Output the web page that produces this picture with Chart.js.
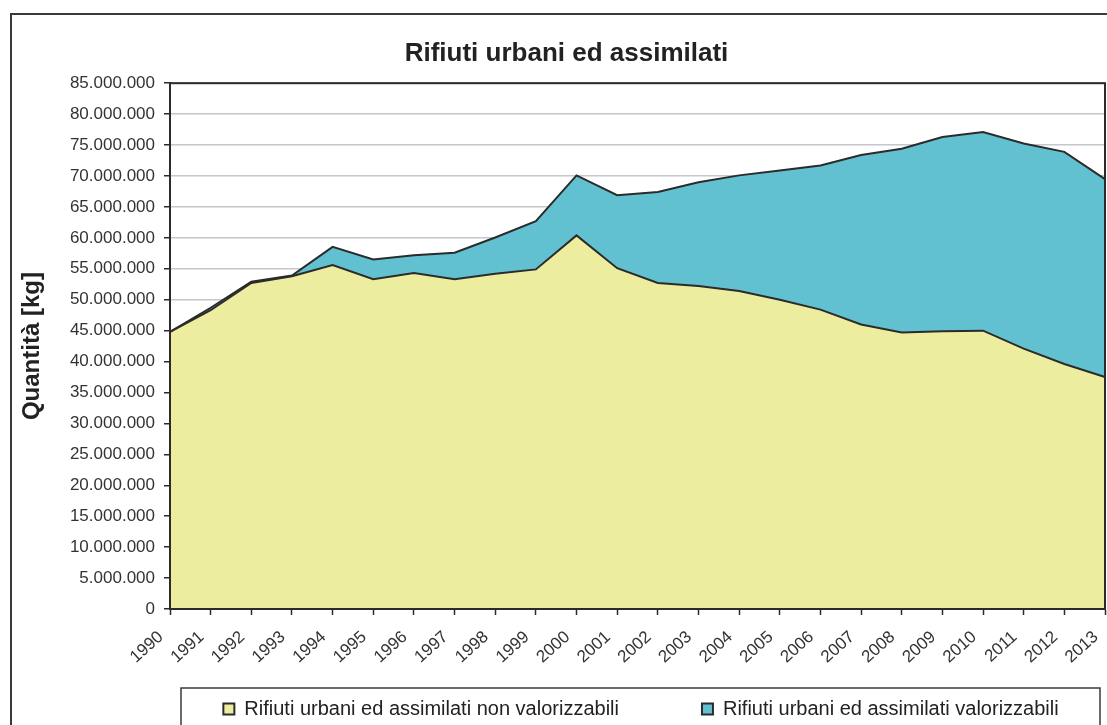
<!DOCTYPE html>
<html>
<head>
<meta charset="utf-8">
<script src="https://cdn.jsdelivr.net/npm/chart.js@4/dist/chart.umd.min.js"></script>
<style>
  body { margin: 0; background: #fff; }
  #wrap { width: 1107px; height: 725px; }
</style>
</head>
<body>
<div id="wrap"><canvas id="rifiutiChart" width="1107" height="725"></canvas></div>
<script>
const years = ['1990', '1991', '1992', '1993', '1994', '1995', '1996', '1997', '1998', '1999', '2000', '2001',
    '2002', '2003', '2004', '2005', '2006', '2007', '2008', '2009', '2010', '2011', '2012', '2013'];

// kg
const nonValorizzabili = [44800000, 48300000, 52700000, 53800000, 55600000, 53300000, 54300000, 53300000,
    54200000, 54900000, 60400000, 55100000, 52700000, 52200000, 51400000, 50000000, 48400000, 46000000,
    44700000, 44900000, 45000000, 42100000, 39600000, 37500000];
const valorizzabili = [0, 400000, 200000, 100000, 2950000, 3200000, 2900000, 4300000,
    5850000, 7800000, 9700000, 11800000, 14700000, 16800000, 18700000, 20900000, 23300000, 27400000,
    29700000, 31400000, 32100000, 33150000, 34300000, 32000000];

const yTickStep = 5000000;
const yMax = 85000000;

const FONT = '"Liberation Sans", Arial, sans-serif';
const DARK = '#2b2b2b';

const formatIt = v => String(v).replace(/\B(?=(\d{3})+(?!\d))/g, '.');

// frame, plot border and legend box
const framePlugin = {
    id: 'frame',
    afterLayout(chart) {
        // title centred a bit right, like the original
        chart.titleBlock.left = 28;
        chart.titleBlock.right = 1105;
        // legend sits inside its own box
        const lg = chart.legend;
        lg.left = 132;
        lg.right = 1150;
        lg.width = lg.right - lg.left;
        lg.top = 709 - lg.options.labels.padding - 10;
        lg.bottom = 730;
        lg.height = lg.bottom - lg.top;
    },
    beforeDraw(chart) {
        const ctx = chart.ctx;
        ctx.save();
        ctx.fillStyle = '#fff';
        ctx.fillRect(0, 0, chart.width, chart.height);
        ctx.strokeStyle = '#3a3a3a';
        ctx.lineWidth = 2;
        ctx.strokeRect(11, 14, 1110, 730);
        ctx.lineWidth = 1.5;
        ctx.strokeRect(181, 688, 919, 60);
        ctx.restore();
    },
    afterDraw(chart) {
        const { ctx, chartArea: a } = chart;
        ctx.save();
        ctx.strokeStyle = DARK;
        ctx.lineWidth = 2;
        ctx.strokeRect(a.left, a.top, a.right - a.left, a.bottom - a.top);
        ctx.restore();
    }
};

new Chart(document.getElementById('rifiutiChart'), {
    type: 'line',
    data: {
        labels: years,
        datasets: [
            {
                label: 'Rifiuti urbani ed assimilati non valorizzabili',
                data: nonValorizzabili,
                backgroundColor: '#ededa0',
                borderColor: DARK,
                borderWidth: 2,
                fill: 'origin',
                pointRadius: 0,
                tension: 0
            },
            {
                label: 'Rifiuti urbani ed assimilati valorizzabili',
                data: valorizzabili,
                backgroundColor: '#62c1d0',
                borderColor: DARK,
                borderWidth: 2,
                fill: '-1',
                pointRadius: 0,
                tension: 0
            }
        ]
    },
    options: {
        responsive: false,
        animation: false,
        layout: { padding: { left: 10, right: 2, top: 0, bottom: 0 } },
        plugins: {
            filler: { drawTime: 'beforeDatasetsDraw' },
            tooltip: { enabled: false },
            title: {
                display: true,
                text: 'Rifiuti urbani ed assimilati',
                color: '#222',
                font: { family: FONT, size: 26, weight: 'bold' },
                padding: { top: 38, bottom: 14 }
            },
            legend: {
                position: 'bottom',
                maxHeight: 40,
                labels: {
                    color: '#222',
                    font: { family: FONT, size: 20 },
                    boxWidth: 11,
                    boxHeight: 11,
                    padding: 83
                }
            }
        },
        scales: {
            x: {
                offset: false,
                grid: { drawOnChartArea: false, tickLength: 6, tickColor: DARK, tickWidth: 1.5 },
                border: { color: DARK, width: 2 },
                ticks: {
                    color: '#333',
                    font: { family: FONT, size: 17 },
                    minRotation: 42,
                    maxRotation: 42,
                    autoSkip: false,
                    padding: 12,
                    labelOffset: -9
                },
                afterFit(scale) {
                    scale.height = 76;
                    scale.paddingRight = 0;
                }
            },
            y: {
                stacked: true,
                min: 0,
                max: yMax,
                grid: { color: '#c6c6ce', lineWidth: 1.5, tickLength: 6, tickColor: DARK, tickWidth: 1.5 },
                border: { color: DARK, width: 2 },
                ticks: {
                    stepSize: yTickStep,
                    color: '#333',
                    font: { family: FONT, size: 17 },
                    padding: 9,
                    callback: v => formatIt(v)
                },
                title: {
                    display: true,
                    text: 'Quantità [kg]',
                    color: '#222',
                    font: { family: FONT, size: 24, weight: 'bold' },
                    padding: { top: 8, bottom: 0 }
                },
                afterFit(scale) { scale.width = 160; }
            }
        }
    },
    plugins: [framePlugin]
});
</script>
</body>
</html>
